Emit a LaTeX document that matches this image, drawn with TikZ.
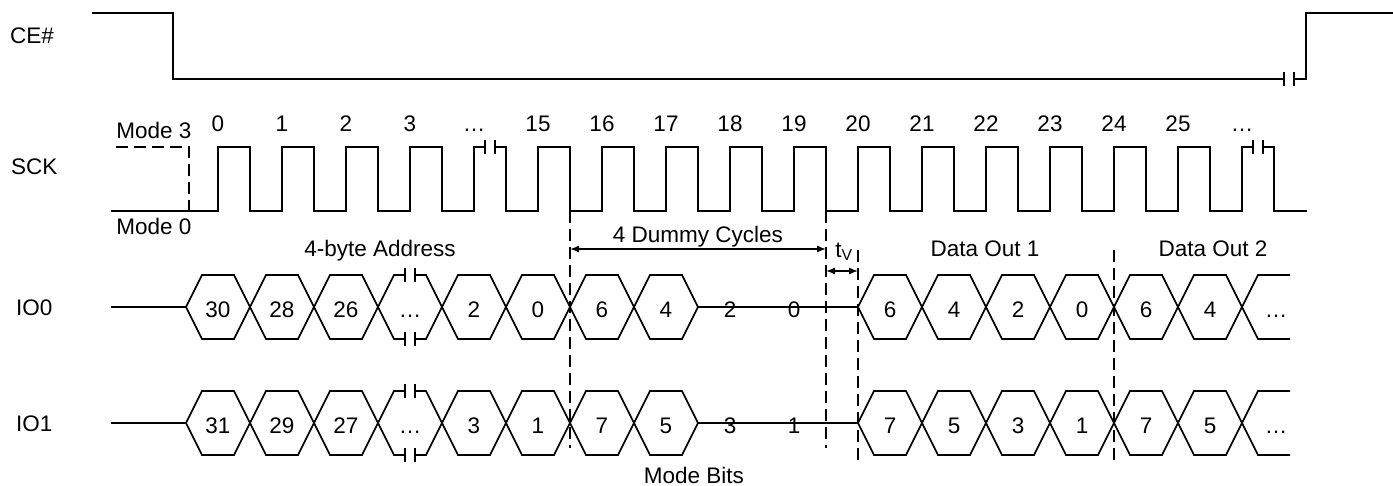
\documentclass[tikz,border=0pt]{standalone}
\usepackage{fontspec}
\setmainfont{Liberation Sans}
\usepackage{tikz}
\usetikzlibrary{math}
\usetikzlibrary{arrows.meta}
\tikzstyle{sig} = [line width=1.6pt, line join=miter]
\tikzstyle{guide} = [line width=1.4pt, dash pattern=on 12pt off 6pt]
\tikzstyle{dim} = [line width=1.4pt, {Latex[length=9pt,width=7pt]}-{Latex[length=9pt,width=7pt]}]
\tikzstyle{lbl} = [font=\fontsize{22.5}{25}\selectfont, inner sep=0pt, text height=16pt, text depth=0pt]
\tikzstyle{bit} = [lbl, yshift=-2pt]
\newcommand{\gapmark}[2]{%
  \fill[white] (#1-5,#2-3) rectangle (#1+5,#2+3);
  \draw[sig] (#1-5,#2-7) -- (#1-5,#2+7) (#1+5,#2-7) -- (#1+5,#2+7);}

\begin{document}
\begin{tikzpicture}[x=1pt, y=-1pt]

  \tikzmath{\p = 64; \hi = 147; \lo = 211;}
  \useasboundingbox (0,0) rectangle (1393,485);

  % CE#
  \node[lbl, anchor=west] (ce) at (10,35) {CE\#};
  \draw[sig] (92,13) -- (173,13) -- (173,79) -- (1306,79) -- (1306,13) -- (1393,13);
  \gapmark{1289}{79}

  % SCK
  \node[lbl, anchor=west] (sck) at (11,166) {SCK};
  \node[lbl] (mthree) at (154,130) {Mode 3};
  \node[lbl] (mzero) at (154,226) {Mode 0};
  \draw[guide] (116,\hi) -- (189,\hi) -- (189,\lo);
  \draw[sig] (111,\lo) foreach \k in {0,...,16} {
    -- ({218+\p*\k},\lo) -- ++(0,-64) -- ++(32,0) -- ++(0,64)
  } -- (1307,\lo);
  \gapmark{490}{\hi}
  \gapmark{1258}{\hi}
  \foreach \t [count=\k from 0] in {0,1,2,3,\ldots,15,16,17,18,19,20,21,22,23,24,25,\ldots}
    \node[lbl] (n\k) at ({218+\p*\k},123) {\t};

  % IO0
  \node[lbl, anchor=west] (iozero) at (16,307) {IO0};
  \draw[sig] (111,307) -- (186,307);
  \foreach \t [count=\k from 0] in {30,28,26,\ldots,2,0,6,4} {
    \draw[sig] ({186+\p*\k},307) -- ++(16,-32) -- ++(32,0) -- ++(16,32) -- ++(-16,32) -- ++(-32,0) -- cycle;
    \node[bit] (a\k) at ({218+\p*\k},307) {\t};
  }
  \gapmark{410}{275}
  \gapmark{410}{339}
  \draw[sig] (698,307) -- (858,307);
  \node[bit] (a8) at (730,307) {2};
  \node[bit] (a9) at (794,307) {0};
  \foreach \t [count=\k from 0] in {6,4,2,0,6,4} {
    \draw[sig] ({858+\p*\k},307) -- ++(16,-32) -- ++(32,0) -- ++(16,32) -- ++(-16,32) -- ++(-32,0) -- cycle;
    \node[bit] (b\k) at ({890+\p*\k},307) {\t};
  }
  \draw[sig] (1290,275) -- (1258,275) -- (1242,307) -- (1258,339) -- (1290,339);
  \node[bit] (b6) at (1276,307) {\ldots};

  % IO1
  \node[lbl, anchor=west] (ioone) at (16,423) {IO1};
  \draw[sig] (111,423) -- (186,423);
  \foreach \t [count=\k from 0] in {31,29,27,\ldots,3,1,7,5} {
    \draw[sig] ({186+\p*\k},423) -- ++(16,-32) -- ++(32,0) -- ++(16,32) -- ++(-16,32) -- ++(-32,0) -- cycle;
    \node[bit] (c\k) at ({218+\p*\k},423) {\t};
  }
  \gapmark{410}{391}
  \gapmark{410}{455}
  \draw[sig] (698,423) -- (858,423);
  \node[bit] (c8) at (730,423) {3};
  \node[bit] (c9) at (794,423) {1};
  \foreach \t [count=\k from 0] in {7,5,3,1,7,5} {
    \draw[sig] ({858+\p*\k},423) -- ++(16,-32) -- ++(32,0) -- ++(16,32) -- ++(-16,32) -- ++(-32,0) -- cycle;
    \node[bit] (d\k) at ({890+\p*\k},423) {\t};
  }
  \draw[sig] (1290,391) -- (1258,391) -- (1242,423) -- (1258,455) -- (1290,455);
  \node[bit] (d6) at (1276,423) {\ldots};

  % guides and timings
  \draw[guide] (570,\lo) -- (570,448);
  \draw[guide] (826,\lo) -- (826,448);
  \draw[guide] (858,250) -- (858,465);
  \draw[guide] (1114,250) -- (1114,465);

  \coordinate (dstart) at (570,249);
  \coordinate (dend) at (826,249);
  \draw[dim] (dstart) -- (dend);
  \coordinate (tstart) at (826,271);
  \coordinate (tend) at (858,271);
  \draw[dim] (tstart) -- (tend);

  \node[lbl] (addr) at (380,248) {4-byte Address};
  \node[lbl] (dummy) at (698,234) {4 Dummy Cycles};
  \node[lbl] (tv) at (844,249) {t\textsubscript{V}};
  \node[lbl] (outone) at (985,248) {Data Out 1};
  \node[lbl] (outtwo) at (1213,248) {Data Out 2};
  \node[lbl] (modebits) at (694,475) {Mode Bits};

\end{tikzpicture}
\end{document}
